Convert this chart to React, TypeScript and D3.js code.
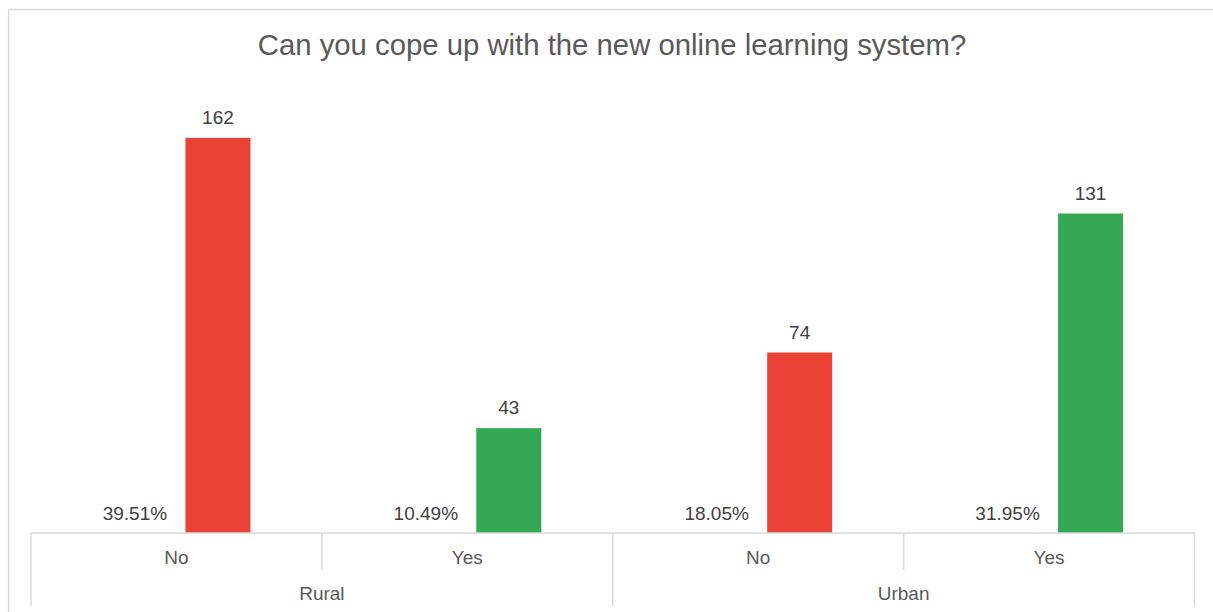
import React from "react";
import * as d3 from "d3";

const title = "Can you cope up with the new online learning system?";
const areas = ["Rural", "Urban"];
const categories = ["Rural|No", "Rural|Yes", "Urban|No", "Urban|Yes"];
const counts = [162, 43, 74, 131];
const percents = [39.51, 10.49, 18.05, 31.95];
const series = ["pct", "count"];
const answerColors: Record<string, string> = { No: "#EA4335", Yes: "#34A853" };

const W = 1213;
const H = 612;
const axisY = 533;
const plotTop = 94;
const left = 31;
const right = 1194.5;
const font = "'Liberation Sans', Arial, sans-serif";
const grid = "#d9d9d9";

export default function App() {
  const x0 = d3.scaleBand<string>().domain(categories).range([left, right]).padding(0);
  const bw = x0.bandwidth();
  const x1 = d3.scaleBand<string>().domain(series).range([bw / 2 - 83, bw / 2 + 83]).padding(0);
  const barW = 65;
  const y = d3.scaleLinear().domain([0, 180]).range([axisY, plotTop]);
  const fmt = d3.format(".2f");
  const gx = d3.scaleBand<string>().domain(areas).range([left, right]);

  return (
    <svg width={W} height={H} style={{ position: "absolute", left: 0, top: 0, background: "#fff" }}>
      <rect x={0} y={0} width={W} height={H} fill="#fff" />
      <line x1={8.5} y1={9} x2={8.5} y2={H} stroke={grid} strokeWidth={1.5} />
      <line x1={8} y1={9.5} x2={W} y2={9.5} stroke={grid} strokeWidth={1.5} />
      <text x={612} y={55} textAnchor="middle" fontFamily={font} fontSize={29.3} fill="#595959">
        {title}
      </text>
      {categories.map((c, i) => {
        const cx = x0(c)!;
        const ans = c.split("|")[1];
        const bx = cx + x1("count")! + (x1.bandwidth() - barW) / 2;
        const px = cx + x1("pct")! + x1.bandwidth() / 2;
        return (
          <g key={c}>
            <rect x={bx} y={y(counts[i])} width={barW} height={axisY - y(counts[i])} fill={answerColors[ans]} />
            <text x={bx + barW / 2} y={y(counts[i]) - 14} textAnchor="middle" fontFamily={font} fontSize={19} fill="#404040">
              {counts[i]}
            </text>
            <text x={px} y={520} textAnchor="middle" fontFamily={font} fontSize={19} fill="#404040">
              {fmt(percents[i])}%
            </text>
            <text x={cx + bw / 2} y={564} textAnchor="middle" fontFamily={font} fontSize={19} fill="#595959">
              {ans}
            </text>
          </g>
        );
      })}
      <line x1={left} y1={axisY} x2={right} y2={axisY} stroke={grid} strokeWidth={1.5} />
      {categories.map((c, i) =>
        i % 2 === 1 ? (
          <line key={"s" + c} x1={x0(c)!} y1={axisY} x2={x0(c)!} y2={570} stroke={grid} strokeWidth={1.5} />
        ) : null
      )}
      {areas.map((a) => (
        <g key={a}>
          <line x1={gx(a)!} y1={axisY} x2={gx(a)!} y2={606} stroke={grid} strokeWidth={1.5} />
          <text x={gx(a)! + gx.bandwidth() / 2} y={600} textAnchor="middle" fontFamily={font} fontSize={19} fill="#595959">
            {a}
          </text>
        </g>
      ))}
      <line x1={right} y1={axisY} x2={right} y2={606} stroke={grid} strokeWidth={1.5} />
    </svg>
  );
}
